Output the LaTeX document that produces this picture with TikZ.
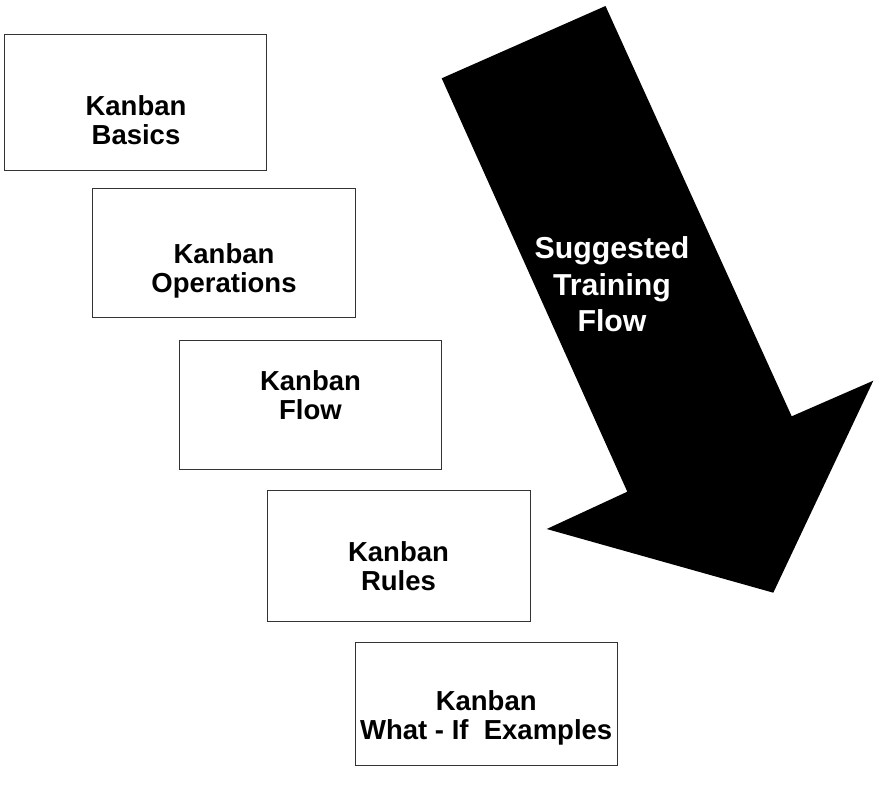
\documentclass[tikz,border=0pt]{standalone}
\usepackage{fontspec}
\setmainfont{Liberation Sans}
\begin{document}
\begin{tikzpicture}[x=1bp,y=-1bp,
  stage/.style={draw=black!80, line width=1bp, fill=white,
    minimum width=262bp, minimum height=130bp, inner sep=0pt},
  stagetext/.style={font=\bfseries\fontsize{27.5bp}{29.4bp}\selectfont,
    align=center, anchor=north, inner sep=0pt},
  flowtext/.style={font=\bfseries\fontsize{30.3bp}{36.5bp}\selectfont,
    align=center, anchor=north, inner sep=0pt, text=white}]
\useasboundingbox (0,0) rectangle (877,807);

% big arrow showing the order of the training modules
\fill[black] (441.7,78.3) -- (605.5,6) -- (791.7,416.3) -- (873.3,380.7)
  -- (773.3,592.7) -- (546.7,529) -- (627.3,491.7) -- cycle;
\node[flowtext] (flowlabel) at (612,236.5) {Suggested\\Training\\Flow};

% training modules, stepping down to the right
\node[stage, minimum height=135bp] (basics) at (135.4,102.5) {};
\node[stage, minimum height=129bp] (operations) at (224,252.5) {};
\node[stage, minimum height=129bp] (flowbox) at (310.5,404.5) {};
\node[stage, minimum width=263bp, minimum height=131bp] (rules) at (398.5,555.5) {};
\node[stage, minimum height=123bp] (whatif) at (486.2,703.6) {};

\node[stagetext] (basicslabel) at (136,95) {Kanban\\Basics};
\node[stagetext] (operationslabel) at (224,243.3) {Kanban\\Operations};
\node[stagetext] (flowboxlabel) at (310.5,370) {Kanban\\Flow};
\node[stagetext] (ruleslabel) at (398.5,541) {Kanban\\Rules};
\node[stagetext] (whatiflabel) at (486.2,690) {Kanban\\What - If~~Examples};
\end{tikzpicture}
\end{document}
